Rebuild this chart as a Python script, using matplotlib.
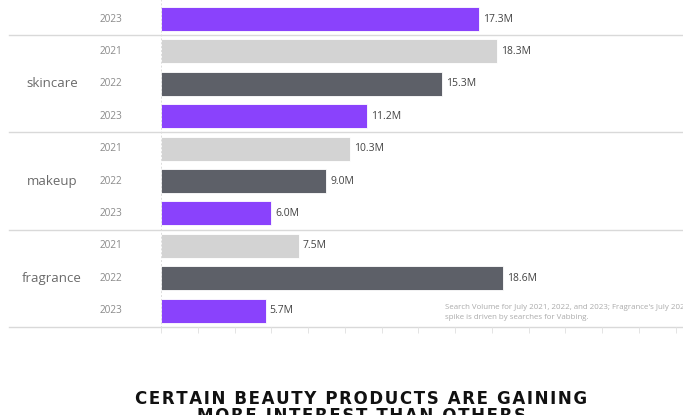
"""
Bar panel: search volume by beauty category and year
"""

import matplotlib.pyplot as plt
from matplotlib import transforms

CATEGORIES = ["skincare", "makeup", "fragrance"]
YEARS = ["2021", "2022", "2023"]
VALUES_2021 = [18.3, 10.3, 7.5]
VALUES_2022 = [15.3, 9.0, 18.6]
VALUES_2023 = [11.2, 6.0, 5.7]
# the group above skincare only shows its last bar in this panel
PREV_LABEL = "2023"
PREV_VALUE = 17.3

YEAR_COLORS = {"2021": "#d3d3d3", "2022": "#5d6068", "2023": "#8a42fc"}
NOTE = ("Search Volume for July 2021, 2022, and 2023; Fragrance's July 2022\n"
        "spike is driven by searches for Vabbing.")
TITLE_LINES = ["CERTAIN BEAUTY PRODUCTS ARE GAINING", "MORE INTEREST THAN OTHERS"]

plt.rcParams["font.family"] = ["Open Sans", "DejaVu Sans"]

W, H = 683, 415
fig = plt.figure(figsize=(W / 100, H / 100), dpi=100)
x0_px = 161
px_per_m = 18.38
row0_px = 19
row_px = 32.4
ax = fig.add_axes([x0_px / W, 0, 1 - x0_px / W, 1])
ax.set_xlim(0, (W - x0_px) / px_per_m)
ax.set_ylim((H - row0_px) / row_px, -row0_px / row_px)
ax.axis("off")

# rows: 0 is the cut-off bar, then three years per category
rows = [(0, PREV_LABEL, PREV_VALUE)]
for i, cat in enumerate(CATEGORIES):
    vals = [VALUES_2021[i], VALUES_2022[i], VALUES_2023[i]]
    for j, year in enumerate(YEARS):
        rows.append((1 + 3 * i + j, year, vals[j]))

fig_x = transforms.blended_transform_factory(fig.transFigure, ax.transData)

for r, year, val in rows:
    ax.barh(r, val, height=0.74, color=YEAR_COLORS[year], edgecolor="white",
            linewidth=0.6)
    ax.text(val + 4 / px_per_m, r, f"{val:.1f}M", va="center", ha="left",
            fontsize=7.5, color="#444444")
    ax.text(111 / W, r, year, transform=fig_x, va="center", ha="center",
            fontsize=7.2, color="#8a8a8a")

for i, cat in enumerate(CATEGORIES):
    ax.text(52 / W, 2 + 3 * i, cat, transform=fig_x, va="center",
            ha="center", fontsize=9.5, color="#6a6a6a")

# group separators
for sep in [0.5, 3.5, 6.5, 9.5]:
    ax.plot([9 / W, 1], [sep, sep], transform=fig_x, color="#d9d9d9",
            linewidth=1.0, clip_on=False)

# zero line and small tick marks under the last separator
ax.vlines(0, -1, 9.5, color="#dddddd", linewidth=0.7, linestyles=(0, (2, 2)))
for t in range(0, 30, 2):
    ax.vlines(t, 9.52, 9.68, color="#e4e4e4", linewidth=0.7)

fig.text(445 / W, 1 - 312 / H, NOTE, fontsize=5.7, color="#ababab",
         va="center", ha="left", linespacing=1.6)

# heading with wide letter spacing, second line runs off the bottom
for k, line in enumerate(TITLE_LINES):
    fig.text(361 / W, 1 - (404 + 17 * k) / H, "\u200a".join(line),
             fontsize=12, fontweight="black", family="DejaVu Sans",
             color="#111111", ha="center", va="baseline")

fig.savefig("out.png", dpi=100)
